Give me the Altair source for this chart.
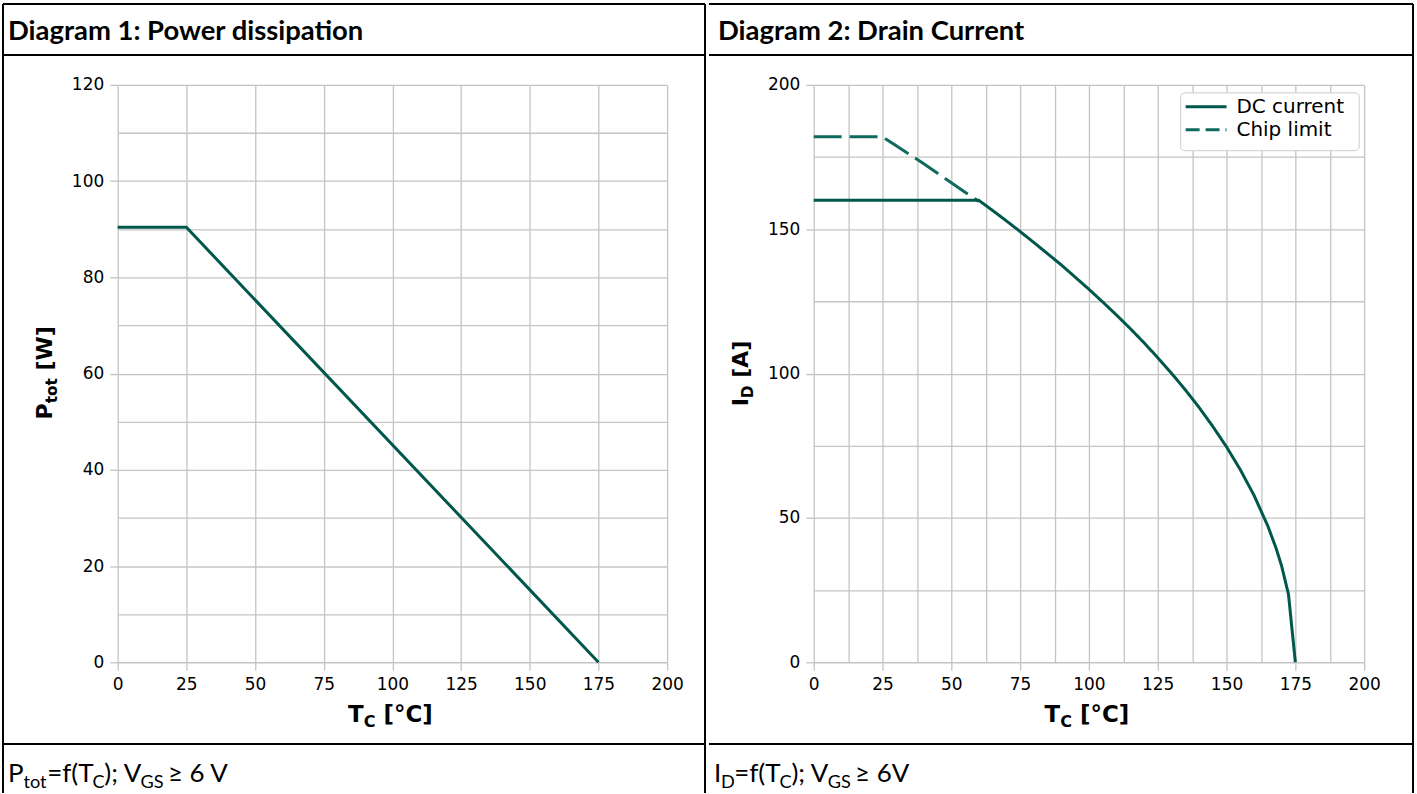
import altair as alt
import pandas as pd

# ---------------- data ----------------
# Diagram 1: power dissipation
p_tc = [0, 25, 175]
p_tot = [90.4, 90.4, 0]

# Diagram 2: drain current
dc_tc = [0, 59, 60, 65, 70, 75, 80, 85, 90, 95, 100, 105, 110, 115, 120, 125, 130,
         135, 140, 145, 150, 155, 160, 165, 168, 170, 172.5, 175]
dc_id = [160, 160, 160, 156.5, 152.9, 149.2, 145.4, 141.5, 137.6, 133.4, 129.2, 124.8,
         120.3, 115.6, 110.7, 105.5, 100.1, 94.4, 88.3, 81.7, 74.6, 66.7, 57.8, 47.2,
         39.5, 33.4, 23.6, 0]
chip_tc = [0, 25, 30, 35, 40, 45, 50, 55, 60]
chip_id = [182, 182, 178.9, 175.8, 172.7, 169.4, 166.1, 162.8, 159.6]

x_ticks_1 = [0, 25, 50, 75, 100, 125, 150, 175, 200]
y_ticks_1 = [0, 10, 20, 30, 40, 50, 60, 70, 80, 90, 100, 110, 120]
x_ticks_2 = [0, 12.5, 25, 37.5, 50, 62.5, 75, 87.5, 100, 112.5, 125, 137.5, 150, 162.5, 175, 187.5, 200]
y_ticks_2 = [0, 25, 50, 75, 100, 125, 150, 175, 200]

legend_labels = ["DC current", "Chip limit"]
header_1 = "Diagram 1: Power dissipation"
header_2 = "Diagram 2: Drain Current"

TEAL = "#00574c"
TEAL2 = "#0f6a5e"
GRID = "#c4c4c4"
W, H = 551, 579
dummy = pd.DataFrame({"d": [0]})

AX_FONT = "DejaVu Sans"
HDR_FONT = "Lato"

# approximate advance widths (em)
DJB = {"T": .683, "C": .734, " ": .348, "[": .457, "°": .500, "]": .457, "P": .733,
       "t": .478, "o": .687, "W": 1.031, "I": .372, "D": .830, "A": .774}
LATO = {"P": .60, "t": .37, "o": .56, "=": .58, "f": .33, "(": .30, ")": .30, "T": .54,
        "C": .65, ";": .24, " ": .20, "V": .66, "G": .72, "S": .50, "≥": .58, "6": .58,
        "I": .27, "D": .73}


def width(t, size, metrics):
    return sum(metrics.get(c, 0.6) for c in t) * size


def txt(t, x, y, size, font, weight="normal", angle=0, align="left", baseline="alphabetic"):
    return alt.Chart(dummy).mark_text(
        text=t, font=font, fontSize=size, fontWeight=weight, angle=angle,
        align=align, baseline=baseline, color="black"
    ).encode(x=alt.value(x), y=alt.value(y))


def rich_h(pieces, x0, y0, size, font, metrics, weight="normal", center=False, shift=0.22):
    """pieces: list of (text, is_sub)"""
    sub = 0.7 * size
    total = sum(width(t, sub if s else size, metrics) for t, s in pieces)
    x = x0 - total / 2 if center else x0
    out = []
    for t, s in pieces:
        sz = sub if s else size
        lead = len(t) - len(t.lstrip(" "))
        x += width(" " * lead, sz, metrics)
        core = t.lstrip(" ")
        out.append(txt(core, x, y0 + (shift * size if s else 0), sz, font, weight))
        x += width(core, sz, metrics)
    return out


def rich_v(pieces, xb, yc, size, font, metrics, weight="bold", shift=0.22):
    sub = 0.7 * size
    total = sum(width(t, sub if s else size, metrics) for t, s in pieces)
    y = yc + total / 2
    out = []
    for t, s in pieces:
        sz = sub if s else size
        lead = len(t) - len(t.lstrip(" "))
        y -= width(" " * lead, sz, metrics)
        core = t.lstrip(" ")
        out.append(txt(core, xb + (shift * size if s else 0), y, sz, font, weight, angle=270))
        y -= width(core, sz, metrics)
    return out


def rule(x, x2, y, y2, color="black", w=2, dash=None):
    kw = dict(color=color, strokeWidth=w)
    if dash:
        kw["strokeDash"] = dash
    return alt.Chart(dummy).mark_rule(**kw).encode(
        x=alt.value(x), x2=alt.value(x2), y=alt.value(y), y2=alt.value(y2))


def bounds(x, x2, y, y2):
    return alt.Chart(dummy).mark_rect(opacity=0).encode(
        x=alt.value(x), x2=alt.value(x2), y=alt.value(y), y2=alt.value(y2))


def axis(values, label_step, **kw):
    cond = f"datum.value % {label_step} === 0"
    return alt.Axis(values=values, title=None, labelExpr=f"{cond} ? datum.label : ''",
                    labelFlush=False, labelOverlap=False,
                    labelFont=AX_FONT, labelFontSize=17, labelColor="black",
                    tickSize=8, labelPadding=6,
                    tickOpacity={"condition": {"test": cond, "value": 1}, "value": 0}, **kw)


# ---------------- panel 1 ----------------
df1 = pd.DataFrame({"tc": p_tc, "p": p_tot})
line1 = alt.Chart(df1).mark_line(color=TEAL, strokeWidth=3).encode(
    x=alt.X("tc:Q", scale=alt.Scale(domain=[0, 200], nice=False), axis=axis(x_ticks_1, 25)),
    y=alt.Y("p:Q", scale=alt.Scale(domain=[0, 120], nice=False), axis=axis(y_ticks_1, 20)),
)

layers1 = [bounds(-118, 592, -84, 710), line1,
           rule(-115, 589, -81, -81), rule(-115, 589, -30, -30), rule(-115, 589, 661, 661),
           rule(-115, -115, -81, 710), rule(589, 589, -81, 710),
           txt(header_1, -110, -45, 27.5, HDR_FONT, "bold")]
layers1 += rich_h([("T", False), ("C", True), (" [°C]", False)], W / 2 - 2, 639, 23, AX_FONT, DJB, "bold", center=True)
layers1 += rich_v([("P", False), ("tot", True), (" [W]", False)], -66, H / 2, 22, AX_FONT, DJB)
layers1 += rich_h([("P", False), ("tot", True), ("=f(T", False), ("C", True), ("); V", False),
                   ("GS", True), (" ≥ 6 V", False)], -110, 699, 26, HDR_FONT, LATO)
panel1 = alt.layer(*layers1).properties(width=W, height=H)

# ---------------- panel 2 ----------------
df2 = pd.concat([
    pd.DataFrame({"tc": chip_tc, "id": chip_id, "series": legend_labels[1]}),
    pd.DataFrame({"tc": dc_tc, "id": dc_id, "series": legend_labels[0]}),
])
line2 = alt.Chart(df2).mark_line(strokeWidth=3).encode(
    x=alt.X("tc:Q", scale=alt.Scale(domain=[0, 200], nice=False), axis=axis(x_ticks_2, 25)),
    y=alt.Y("id:Q", scale=alt.Scale(domain=[0, 200], nice=False), axis=axis(y_ticks_2, 50)),
    color=alt.Color("series:N", scale=alt.Scale(domain=legend_labels, range=[TEAL, TEAL2]), legend=None),
    strokeDash=alt.StrokeDash("series:N", scale=alt.Scale(domain=legend_labels, range=[[1, 0], [28, 8]]), legend=None),
    order=alt.Order("series:N"),
)

legend_layers = [
    alt.Chart(dummy).mark_rect(fill="white", stroke="#cccccc", strokeWidth=1, cornerRadius=4).encode(
        x=alt.value(368), x2=alt.value(547), y=alt.value(8), y2=alt.value(66)),
    rule(373, 414, 22, 22, TEAL, 3),
    rule(373, 414, 45, 45, TEAL2, 3, [14, 6]),
    txt(legend_labels[0], 424, 22, 20, AX_FONT, baseline="middle"),
    txt(legend_labels[1], 424, 45, 20, AX_FONT, baseline="middle"),
]

layers2 = [bounds(-102, 605, -84, 710), line2] + legend_layers + [
    rule(-105, 601, -81, -81), rule(-105, 601, -30, -30), rule(-105, 601, 661, 661),
    rule(601, 601, -81, 710),
    txt(header_2, -96, -45, 27.5, HDR_FONT, "bold")]
layers2 += rich_h([("T", False), ("C", True), (" [°C]", False)], 552 / 2 - 2, 639, 23, AX_FONT, DJB, "bold", center=True)
layers2 += rich_v([("I", False), ("D", True), (" [A]", False)], -66, H / 2, 22, AX_FONT, DJB)
layers2 += rich_h([("I", False), ("D", True), ("=f(T", False), ("C", True), ("); V", False),
                   ("GS", True), (" ≥ 6V", False)], -100, 699, 26, HDR_FONT, LATO)
panel2 = alt.layer(*layers2).properties(width=552, height=H)

chart = alt.hconcat(panel1, panel2, spacing=0).properties(
    padding=0, background="white"
).configure_view(stroke=None).configure_axis(
    gridColor=GRID, gridWidth=1.3, tickColor=GRID, tickWidth=1.3, domain=False,
)

chart.save("out.html", embed_options={"renderer": "svg", "actions": False})
